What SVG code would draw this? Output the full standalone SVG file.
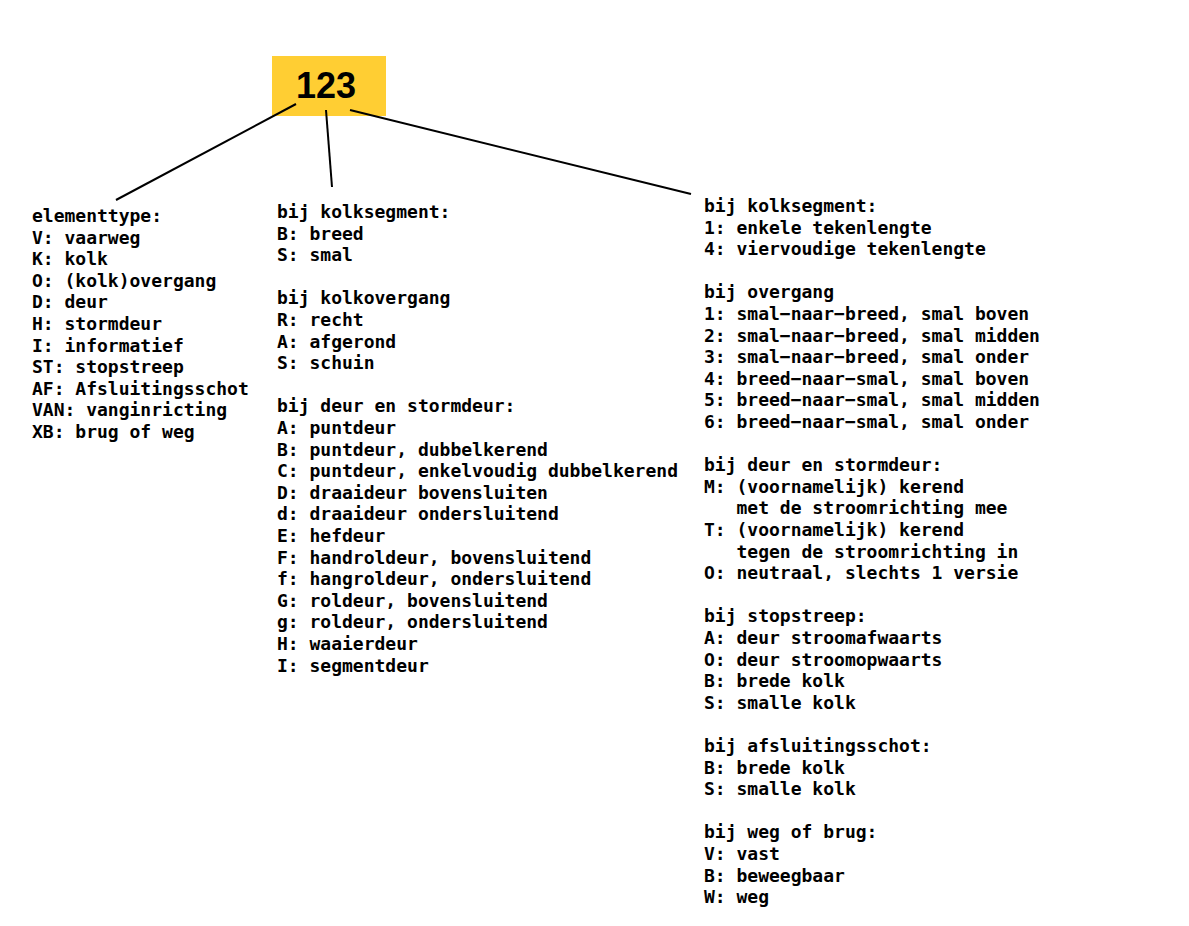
<svg xmlns="http://www.w3.org/2000/svg" width="1189" height="926" viewBox="0 0 1189 926">
<style>
.t{font-family:"DejaVu Sans Mono",monospace;font-weight:bold;font-size:18px;fill:#000;white-space:pre}
.c{stroke:#000;stroke-width:2;fill:none}
</style>
<rect width="1189" height="926" fill="#fff"/>
<g id="root">
<rect x="272" y="56" width="114" height="60" fill="#FFCE33"/>
<text x="326" y="98" text-anchor="middle" font-family="Liberation Sans,Arial,sans-serif" font-weight="bold" font-size="36">123</text>
</g>
<g id="connectors">
<line class="c" x1="296" y1="104" x2="116" y2="200"/>
<line class="c" x1="326" y1="110" x2="332" y2="187"/>
<line class="c" x1="350" y1="110" x2="691" y2="194"/>
</g>
<g id="elementtype">
<text class="t" x="32" y="222">
<tspan x="32" dy="0">elementtype:</tspan>
<tspan x="32" dy="21.6">V: vaarweg</tspan>
<tspan x="32" dy="21.6">K: kolk</tspan>
<tspan x="32" dy="21.6">O: (kolk)overgang</tspan>
<tspan x="32" dy="21.6">D: deur</tspan>
<tspan x="32" dy="21.6">H: stormdeur</tspan>
<tspan x="32" dy="21.6">I: informatief</tspan>
<tspan x="32" dy="21.6">ST: stopstreep</tspan>
<tspan x="32" dy="21.6">AF: Afsluitingsschot</tspan>
<tspan x="32" dy="21.6">VAN: vanginricting</tspan>
<tspan x="32" dy="21.6">XB: brug of weg</tspan>
</text>
</g>
<g id="subtype">
<text class="t" x="277" y="218">
<tspan x="277" dy="0">bij kolksegment:</tspan>
<tspan x="277" dy="21.6">B: breed</tspan>
<tspan x="277" dy="21.6">S: smal</tspan>
<tspan x="277" dy="43.2">bij kolkovergang</tspan>
<tspan x="277" dy="21.6">R: recht</tspan>
<tspan x="277" dy="21.6">A: afgerond</tspan>
<tspan x="277" dy="21.6">S: schuin</tspan>
<tspan x="277" dy="43.2">bij deur en stormdeur:</tspan>
<tspan x="277" dy="21.6">A: puntdeur</tspan>
<tspan x="277" dy="21.6">B: puntdeur, dubbelkerend</tspan>
<tspan x="277" dy="21.6">C: puntdeur, enkelvoudig dubbelkerend</tspan>
<tspan x="277" dy="21.6">D: draaideur bovensluiten</tspan>
<tspan x="277" dy="21.6">d: draaideur ondersluitend</tspan>
<tspan x="277" dy="21.6">E: hefdeur</tspan>
<tspan x="277" dy="21.6">F: handroldeur, bovensluitend</tspan>
<tspan x="277" dy="21.6">f: hangroldeur, ondersluitend</tspan>
<tspan x="277" dy="21.6">G: roldeur, bovensluitend</tspan>
<tspan x="277" dy="21.6">g: roldeur, ondersluitend</tspan>
<tspan x="277" dy="21.6">H: waaierdeur</tspan>
<tspan x="277" dy="21.6">I: segmentdeur</tspan>
</text>
</g>
<g id="variant">
<text class="t" x="704" y="212">
<tspan x="704" dy="0">bij kolksegment:</tspan>
<tspan x="704" dy="21.6">1: enkele tekenlengte</tspan>
<tspan x="704" dy="21.6">4: viervoudige tekenlengte</tspan>
<tspan x="704" dy="43.2">bij overgang</tspan>
<tspan x="704" dy="21.6">1: smal−naar−breed, smal boven</tspan>
<tspan x="704" dy="21.6">2: smal−naar−breed, smal midden</tspan>
<tspan x="704" dy="21.6">3: smal−naar−breed, smal onder</tspan>
<tspan x="704" dy="21.6">4: breed−naar−smal, smal boven</tspan>
<tspan x="704" dy="21.6">5: breed−naar−smal, smal midden</tspan>
<tspan x="704" dy="21.6">6: breed−naar−smal, smal onder</tspan>
<tspan x="704" dy="43.2">bij deur en stormdeur:</tspan>
<tspan x="704" dy="21.6">M: (voornamelijk) kerend</tspan>
<tspan x="704" dy="21.6">   met de stroomrichting mee</tspan>
<tspan x="704" dy="21.6">T: (voornamelijk) kerend</tspan>
<tspan x="704" dy="21.6">   tegen de stroomrichting in</tspan>
<tspan x="704" dy="21.6">O: neutraal, slechts 1 versie</tspan>
<tspan x="704" dy="43.2">bij stopstreep:</tspan>
<tspan x="704" dy="21.6">A: deur stroomafwaarts</tspan>
<tspan x="704" dy="21.6">O: deur stroomopwaarts</tspan>
<tspan x="704" dy="21.6">B: brede kolk</tspan>
<tspan x="704" dy="21.6">S: smalle kolk</tspan>
<tspan x="704" dy="43.2">bij afsluitingsschot:</tspan>
<tspan x="704" dy="21.6">B: brede kolk</tspan>
<tspan x="704" dy="21.6">S: smalle kolk</tspan>
<tspan x="704" dy="43.2">bij weg of brug:</tspan>
<tspan x="704" dy="21.6">V: vast</tspan>
<tspan x="704" dy="21.6">B: beweegbaar</tspan>
<tspan x="704" dy="21.6">W: weg</tspan>
</text>
</g>
</svg>
